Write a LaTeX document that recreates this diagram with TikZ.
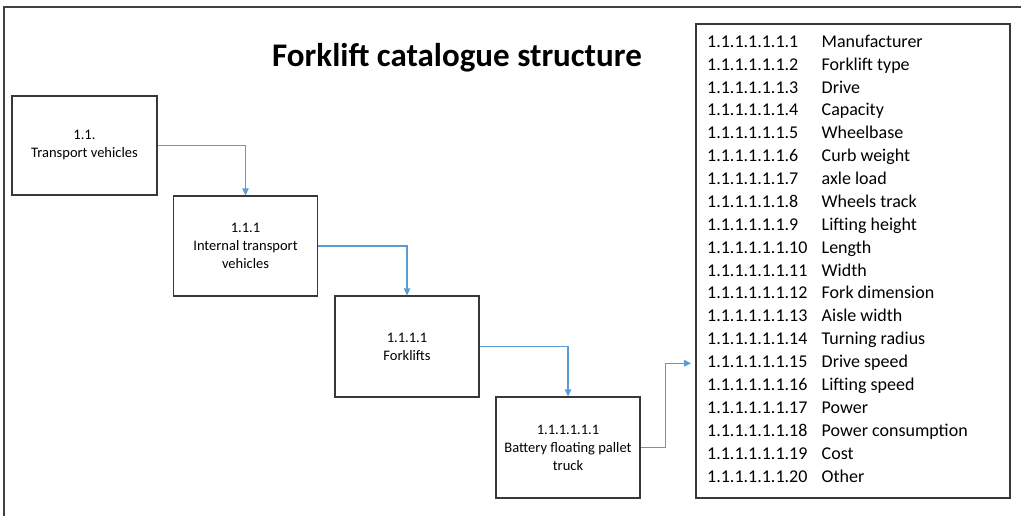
\documentclass[tikz,border=0pt]{standalone}
\usepackage{fontspec}
\setmainfont{Carlito}
\usetikzlibrary{arrows.meta}
\definecolor{linkblue}{HTML}{5B9BD5}

\tikzset{
  box/.style={draw=black!78, line width=1.3pt, minimum width=144pt, minimum height=100pt,
    align=center, font=\fontsize{14.5}{18}\selectfont, inner sep=2pt},
  link/.style={draw=linkblue, line width=1.3pt, -{Triangle[length=7pt,width=6.5pt]}},
  row/.style={anchor=base west, inner sep=0pt, font=\fontsize{18}{22}\selectfont}
}

\begin{document}
\begin{tikzpicture}[x=1pt,y=-1pt]
\useasboundingbox (0,0) rectangle (1021,516);
%frame
\draw[black!75, line width=1.5pt] (4,516) -- (4,7) -- (1021,7);
%title
\node[anchor=base, inner sep=0pt, font=\fontsize{33}{36}\selectfont\bfseries] (title) at (457,67) {Forklift catalogue structure};
%levels
\node[box, minimum width=145pt, minimum height=99pt] (veh) at (84.5,145.5) {1.1.\\Transport vehicles};
\node[box] (intveh) at (245.5,246) {1.1.1\\Internal transport\\vehicles};
\node[box, minimum height=101pt] (fork) at (407,346.5) {1.1.1.1\\Forklifts};
\node[box, minimum height=101pt] (pallet) at (568,447.5) {1.1.1.1.1.1\\Battery floating pallet\\truck};
%parameter list
\node[draw=black!78, line width=1.3pt, minimum width=314pt, minimum height=474pt] (list) at (853,261) {};
\foreach \n/\t [count=\i] in {1/Manufacturer, 2/Forklift type, 3/Drive, 4/Capacity, 5/Wheelbase,
  6/Curb weight, 7/axle load, 8/Wheels track, 9/Lifting height, 10/Length, 11/Width,
  12/Fork dimension, 13/Aisle width, 14/Turning radius, 15/Drive speed, 16/Lifting speed,
  17/Power, 18/Power consumption, 19/Cost, 20/Other}{
\node[row] (num\i) at (707,47.3+\i*22.88-22.88) {1.1.1.1.1.1.\n};
\node[row] (item\i) at (821.5,47.3+\i*22.88-22.88) {\t};
}
%arrows
\draw[link] (veh.east) -| (intveh.north);
\draw[link] (intveh.east) -| (fork.north);
\draw[link] (fork.east) -| (pallet.north);
\coordinate (tip) at (691,363.3);
\draw[link] (pallet.east) -- ++(25,0) |- (tip);
\end{tikzpicture}
\end{document}
